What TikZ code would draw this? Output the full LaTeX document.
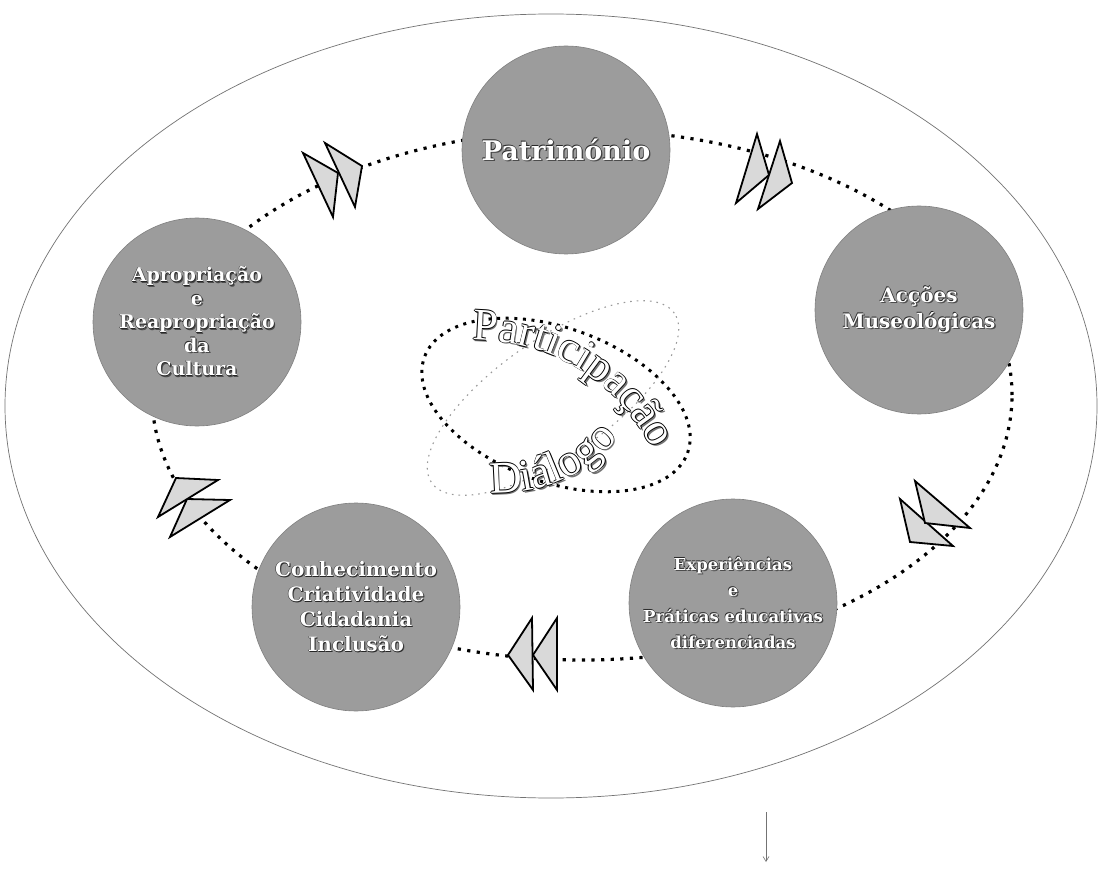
\documentclass[tikz,border=0pt]{standalone}
\usepackage{fontspec}
\setmainfont{DejaVu Serif}
\newfontfamily\cfont{Liberation Serif}
\usetikzlibrary{decorations.text,arrows.meta}

% white lettering with a dark rim and a soft drop shadow
\newcommand\emb[1]{\leavevmode
  \rlap{\color{black!70}\hspace*{1.3pt}\raisebox{-1.3pt}{#1}}%
  \rlap{\color{black!85}\hspace*{-0.5pt}\raisebox{0.5pt}{#1}}%
  \rlap{\color{black!85}\hspace*{0.5pt}\raisebox{-0.5pt}{#1}}%
  {\color{white}#1}}

\definecolor{discgray}{rgb}{0.61,0.61,0.61}
\definecolor{arrowfill}{rgb}{0.85,0.85,0.85}

\begin{document}
\begin{tikzpicture}[x=1pt,y=-1pt,
  frame/.style={draw=black!55,line width=0.7pt},
  ring/.style={draw=black,line width=3.2pt,dash pattern=on 3.2pt off 6.4pt},
  faintring/.style={draw=black!40,line width=1.1pt,dash pattern=on 1.6pt off 5pt},
  disc/.style={circle,fill=discgray,draw=black!50,line width=0.6pt,
    minimum size=208pt,inner sep=0pt,align=center,
    font=\bfseries},
  tri/.style={draw=black,fill=arrowfill,line width=1.8pt,line join=miter},
]
\useasboundingbox (0,0) rectangle (1100,874);
\fill[white] (0,0) rectangle (1100,874);

% outer boundary
\draw[frame] (551,406) ellipse [x radius=546pt, y radius=392pt];

% dotted cycle linking the five themes
\draw[ring] (582,395) ellipse [x radius=430pt, y radius=265pt];

% themes
\node[disc,font=\bfseries\fontsize{27}{30}\selectfont] (pat) at (566,150) {\emb{Património}};
\node[disc,font=\bfseries\fontsize{20}{26}\selectfont] (acc) at (919,310) {\emb{Acções}\\\emb{Museológicas}};
\node[disc,font=\bfseries\fontsize{16.5}{26}\selectfont] (exp) at (733,603) {\emb{Experiências}\\\emb{e}\\\emb{Práticas educativas}\\\emb{diferenciadas}};
\node[disc,font=\bfseries\fontsize{20}{25}\selectfont] (con) at (356,607) {\emb{Conhecimento}\\\emb{Criatividade}\\\emb{Cidadania}\\\emb{Inclusão}};
\node[disc,font=\bfseries\fontsize{19}{23.5}\selectfont] (apr) at (197,322) {\emb{Apropriação}\\\emb{e}\\\emb{Reapropriação}\\\emb{da}\\\emb{Cultura}};

% double arrowheads along the cycle
\draw[tri] (303,153) -- (338,173) -- (333,217) -- cycle;
\draw[tri] (325,143) -- (362,166) -- (355,207) -- cycle;

\draw[tri] (757,134) -- (769,175) -- (736,203) -- cycle;
\draw[tri] (780,141) -- (792,183) -- (758,209) -- cycle;

\draw[tri] (900,499) -- (953,546) -- (910,542) -- cycle;
\draw[tri] (915,481) -- (970,528) -- (925,523) -- cycle;

\draw[tri] (557,618) -- (557,690) -- (533,655) -- cycle;
\draw[tri] (532,618) -- (533,690) -- (508,655) -- cycle;

\draw[tri] (187,499) -- (230,500) -- (170,537) -- cycle;
\draw[tri] (176,478) -- (218,480) -- (158,517) -- cycle;

% central pair of loops
\draw[faintring,rotate around={35:(553,398)}] (553,398) ellipse [x radius=148pt, y radius=58pt];
\draw[ring,line width=3pt,dash pattern=on 3pt off 5.6pt,rotate around={-20:(556,405)}]
  (556,405) ellipse [x radius=140pt, y radius=77pt];

% curved lettering, built up as shadow, rim and white face
\foreach \dx/\dy/\cl in {1.8/1.8/black!55,-0.7/0/black,0.7/0/black,0/-0.7/black,0/0.7/black,0/0/white}{
  \path[decorate,shift={(\dx,\dy)},
    decoration={text along path,text align=left,
      text={|\cfont\fontsize{45}{45}\selectfont\color{\cl}|Participação}}]
    (472,340) .. controls (540,340) and (612,370) .. (654,452);
  \path[decorate,shift={(\dx,\dy)},
    decoration={text along path,text align=left,
      text={|\cfont\fontsize{45}{45}\selectfont\color{\cl}|Diálogo}}]
    (490,493) .. controls (550,495) and (600,470) .. (630,420);
}

% exit arrow below the frame
\coordinate (outA) at (766,812);
\coordinate (outB) at (766,862);
\draw[black!55,line width=0.6pt,-{Straight Barb[length=5pt,width=6pt]}] (outA) -- (outB);
\end{tikzpicture}
\end{document}
